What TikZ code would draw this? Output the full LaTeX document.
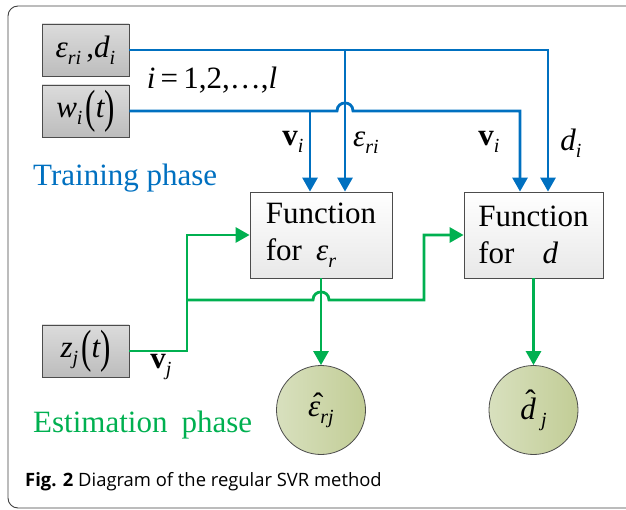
\documentclass[tikz,border=0pt]{standalone}
\usepackage{fontspec}
\setmainfont{Liberation Serif}
\newfontfamily\capfont{Open Sans}
\usepackage{graphicx}
\usetikzlibrary{arrows.meta}
\definecolor{mblue}{HTML}{0070C0}
\definecolor{mgreen}{HTML}{00B050}
\definecolor{cleft}{RGB}{216,224,190}
\definecolor{cright}{RGB}{194,205,150}
\newcommand\lsub[1]{\raisebox{-7pt}{\fontsize{20}{20}\selectfont\itshape #1}}
\newcommand\bigpar[1]{\raisebox{-5pt}{\scalebox{1}[1.5]{#1}}}
\newcommand\epsi{{\itshape ε}}
\newcommand\hatit[2]{\makebox[0pt][l]{\raisebox{#1}{\hspace{5pt}ˆ}}#2}
\begin{document}
\begin{tikzpicture}[x=1pt,y=-1pt,
  font=\fontsize{31}{37}\selectfont,
  inbox/.style={draw=black!70, line width=0.8pt, top color=black!14, bottom color=black!26,
    minimum width=87pt, minimum height=52pt, inner sep=0pt},
  fnbox/.style={draw=black!70, line width=0.8pt, top color=white, bottom color=black!9,
    minimum height=86pt, align=left, inner sep=0pt},
  outc/.style={circle, draw=black!70, line width=0.8pt, left color=cleft, right color=cright,
    minimum size=89pt, inner sep=0pt},
  bline/.style={draw=mblue, line width=2.8pt},
  barrow/.style={bline, -{Triangle[width=15pt,length=14pt]}},
  gline/.style={draw=mgreen, line width=2.8pt},
  garrow/.style={gline, -{Triangle[width=15pt,length=14pt]}},
  lbl/.style={inner sep=0pt}
]
\useasboundingbox (0,0) rectangle (626,510);
\clip (0,0) rectangle (626,510);
\draw[draw=black!75, line width=0.9pt, rounded corners=10pt] (8,6) rectangle (660,508);

% input boxes
\node[inbox] (er) at (85.5,50) {\epsi\lsub{ri}\,,{\itshape d}\lsub{i}};
\node[inbox] (w) at (85.5,111) {{\itshape w}\lsub{i}\hspace{3pt}\bigpar{(}{\itshape t}\bigpar{)}};
\node[inbox] (z) at (85.5,351) {{\itshape z}\lsub{j}\hspace{3pt}\bigpar{(}{\itshape t}\bigpar{)}};

% function boxes
\node[fnbox, minimum width=142pt] (f1) at (321,235) {Function\\for\hspace{14pt}\epsi\lsub{r}\hspace{4pt}};
\node[fnbox, minimum width=139pt] (f2) at (533.5,235) {Function\\for\hspace{28pt}{\itshape d}\hspace{14pt}};

% output circles
\node[outc] (c1) at (321,410) {\hatit{2pt}{\epsi}\lsub{rj}};
\node[outc] (c2) at (533.5,410) {\hatit{8pt}{{\itshape d}}\,\lsub{j}};

% labels
\node[lbl] (li) at (212,80) {{\itshape i}\,=\,1,2,\ldots,{\itshape l}};
\node[lbl] (v1) at (293,142) {\textbf{v}\lsub{i}};
\node[lbl] (e1) at (366,143) {\epsi\lsub{ri}};
\node[lbl] (v2) at (489,142) {\textbf{v}\lsub{i}};
\node[lbl] (d2) at (571,143) {{\itshape d}\lsub{i}};
\node[lbl] (vj) at (161,367) {\textbf{v}\lsub{j}};
\node[lbl, anchor=base west, text=mblue] (tp) at (33,186) {Training phase};
\node[lbl, anchor=base west, text=mgreen] (ep) at (33,432) {Estimation\hspace{14pt}phase};
\node[lbl, anchor=base west, font=\capfont\fontsize{18.4}{20}\selectfont] (cap) at (25,486)
  {\textbf{Fig. 2} Diagram of the regular SVR method};

% helper coordinates
\coordinate (pv1) at ([xshift=-11pt]f1.north);
\coordinate (pe1) at ([xshift=24pt]f1.north);
\coordinate (pv2) at ([xshift=-13.5pt]f2.north);
\coordinate (pd2) at ([xshift=14.5pt]f2.north);
\coordinate (h1) at (pe1 |- w.east);
\coordinate (gj) at (187,300);
\coordinate (gk) at (424,300);
\coordinate (h2) at (f1.south |- gj);

% blue connectors
\draw[barrow] (er.east) -| (pd2);
\draw[barrow] (pe1 |- er.east) -- (pe1);
\draw[barrow] (w.east) -- ([xshift=-8pt]h1)
  .. controls ([xshift=-8pt,yshift=10.7pt]h1) and ([xshift=8pt,yshift=10.7pt]h1) .. ([xshift=8pt]h1)
  -| (pv2);
\draw[barrow] (pv1 |- w.east) -- (pv1);

% green connectors
\draw[garrow] (z.east) -| (gj) |- (f1.west);
\draw[garrow] (gj) -- ([xshift=-8pt]h2)
  .. controls ([xshift=-8pt,yshift=10.7pt]h2) and ([xshift=8pt,yshift=10.7pt]h2) .. ([xshift=8pt]h2)
  -- (gk) |- (f2.west);
\draw[garrow] (f1.south) -- (c1.north);
\draw[garrow] (f2.south) -- (c2.north);
\end{tikzpicture}
\end{document}
